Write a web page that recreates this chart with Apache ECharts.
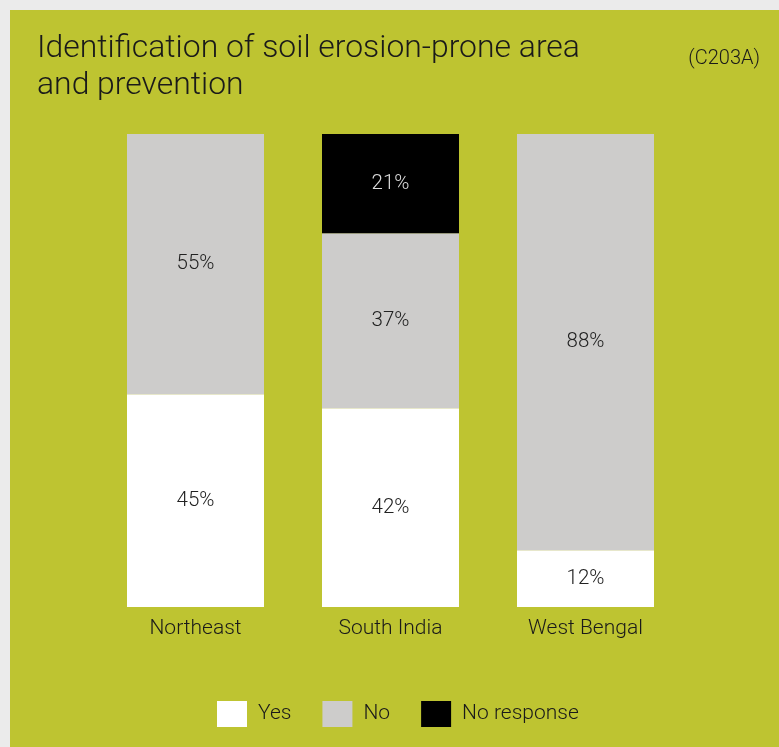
<!DOCTYPE html>
<html>
<head>
<meta charset="utf-8">
<script src="https://cdn.jsdelivr.net/npm/echarts@6/dist/echarts.min.js"></script>
<style>
html,body{margin:0;padding:0;background:#ebebeb;width:779px;height:747px;overflow:hidden;}
#chart{position:absolute;left:10px;top:10px;width:769px;height:737px;}
</style>
</head>
<body>
<div id="chart"></div>
<script>
const categories = ['Northeast', 'South India', 'West Bengal'];
const yesValues = [45, 42, 12];
const noValues = [55, 37, 88];
const noResponseValues = [0, 21, 0];
const seriesNames = ['Yes', 'No', 'No response'];
const titleText = 'Identification of soil erosion-prone area\nand prevention';
const codeText = '(C203A)';

const FONT = 'Roboto';
const chart = echarts.init(document.getElementById('chart'), null, {renderer: 'canvas'});

function mkSeries(name, data, color, labelColor) {
  return {
    name: name,
    type: 'bar',
    stack: 'total',
    barWidth: 137,
    data: data.map(v => v === 0 ? null : v),
    itemStyle: {color: color},
    label: {
      show: true,
      position: 'inside',
      formatter: p => p.value + '%',
      color: labelColor,
      fontFamily: FONT,
      fontWeight: 300,
      fontSize: 20.5
    },
    emphasis: {disabled: true}
  };
}

chart.setOption({
  backgroundColor: '#bec431',
  animation: false,
  title: [{
    text: titleText,
    left: 22,
    top: 15,
    textStyle: {fontFamily: FONT, fontWeight: 300, fontSize: 31.9, lineHeight: 37.5, color: '#1a1a1a'}
  }, {
    text: codeText,
    right: 14,
    top: 34,
    textStyle: {fontFamily: FONT, fontWeight: 300, fontSize: 20, color: '#1a1a1a'}
  }],
  legend: {
    data: seriesNames,
    left: 202,
    top: 686,
    itemWidth: 30,
    itemHeight: 26,
    itemGap: 31,
    icon: 'rect',
    textStyle: {fontFamily: FONT, fontWeight: 300, fontSize: 21, color: '#1a1a1a', padding: [2, 0, 0, 6]}
  },
  grid: {left: 88, width: 585, top: 124, height: 473, containLabel: false},
  xAxis: {
    type: 'category',
    data: categories,
    axisLine: {show: false},
    axisTick: {show: false},
    axisLabel: {margin: 11, fontFamily: FONT, fontWeight: 300, fontSize: 21, color: '#1a1a1a'}
  },
  yAxis: {
    type: 'value',
    min: 0,
    max: 100,
    show: false,
    splitLine: {show: false}
  },
  series: [
    mkSeries('Yes', yesValues, '#ffffff', '#222222'),
    mkSeries('No', noValues, '#cdcccb', '#222222'),
    mkSeries('No response', noResponseValues, '#000000', '#dddddd')
  ]
});
</script>
</body>
</html>
